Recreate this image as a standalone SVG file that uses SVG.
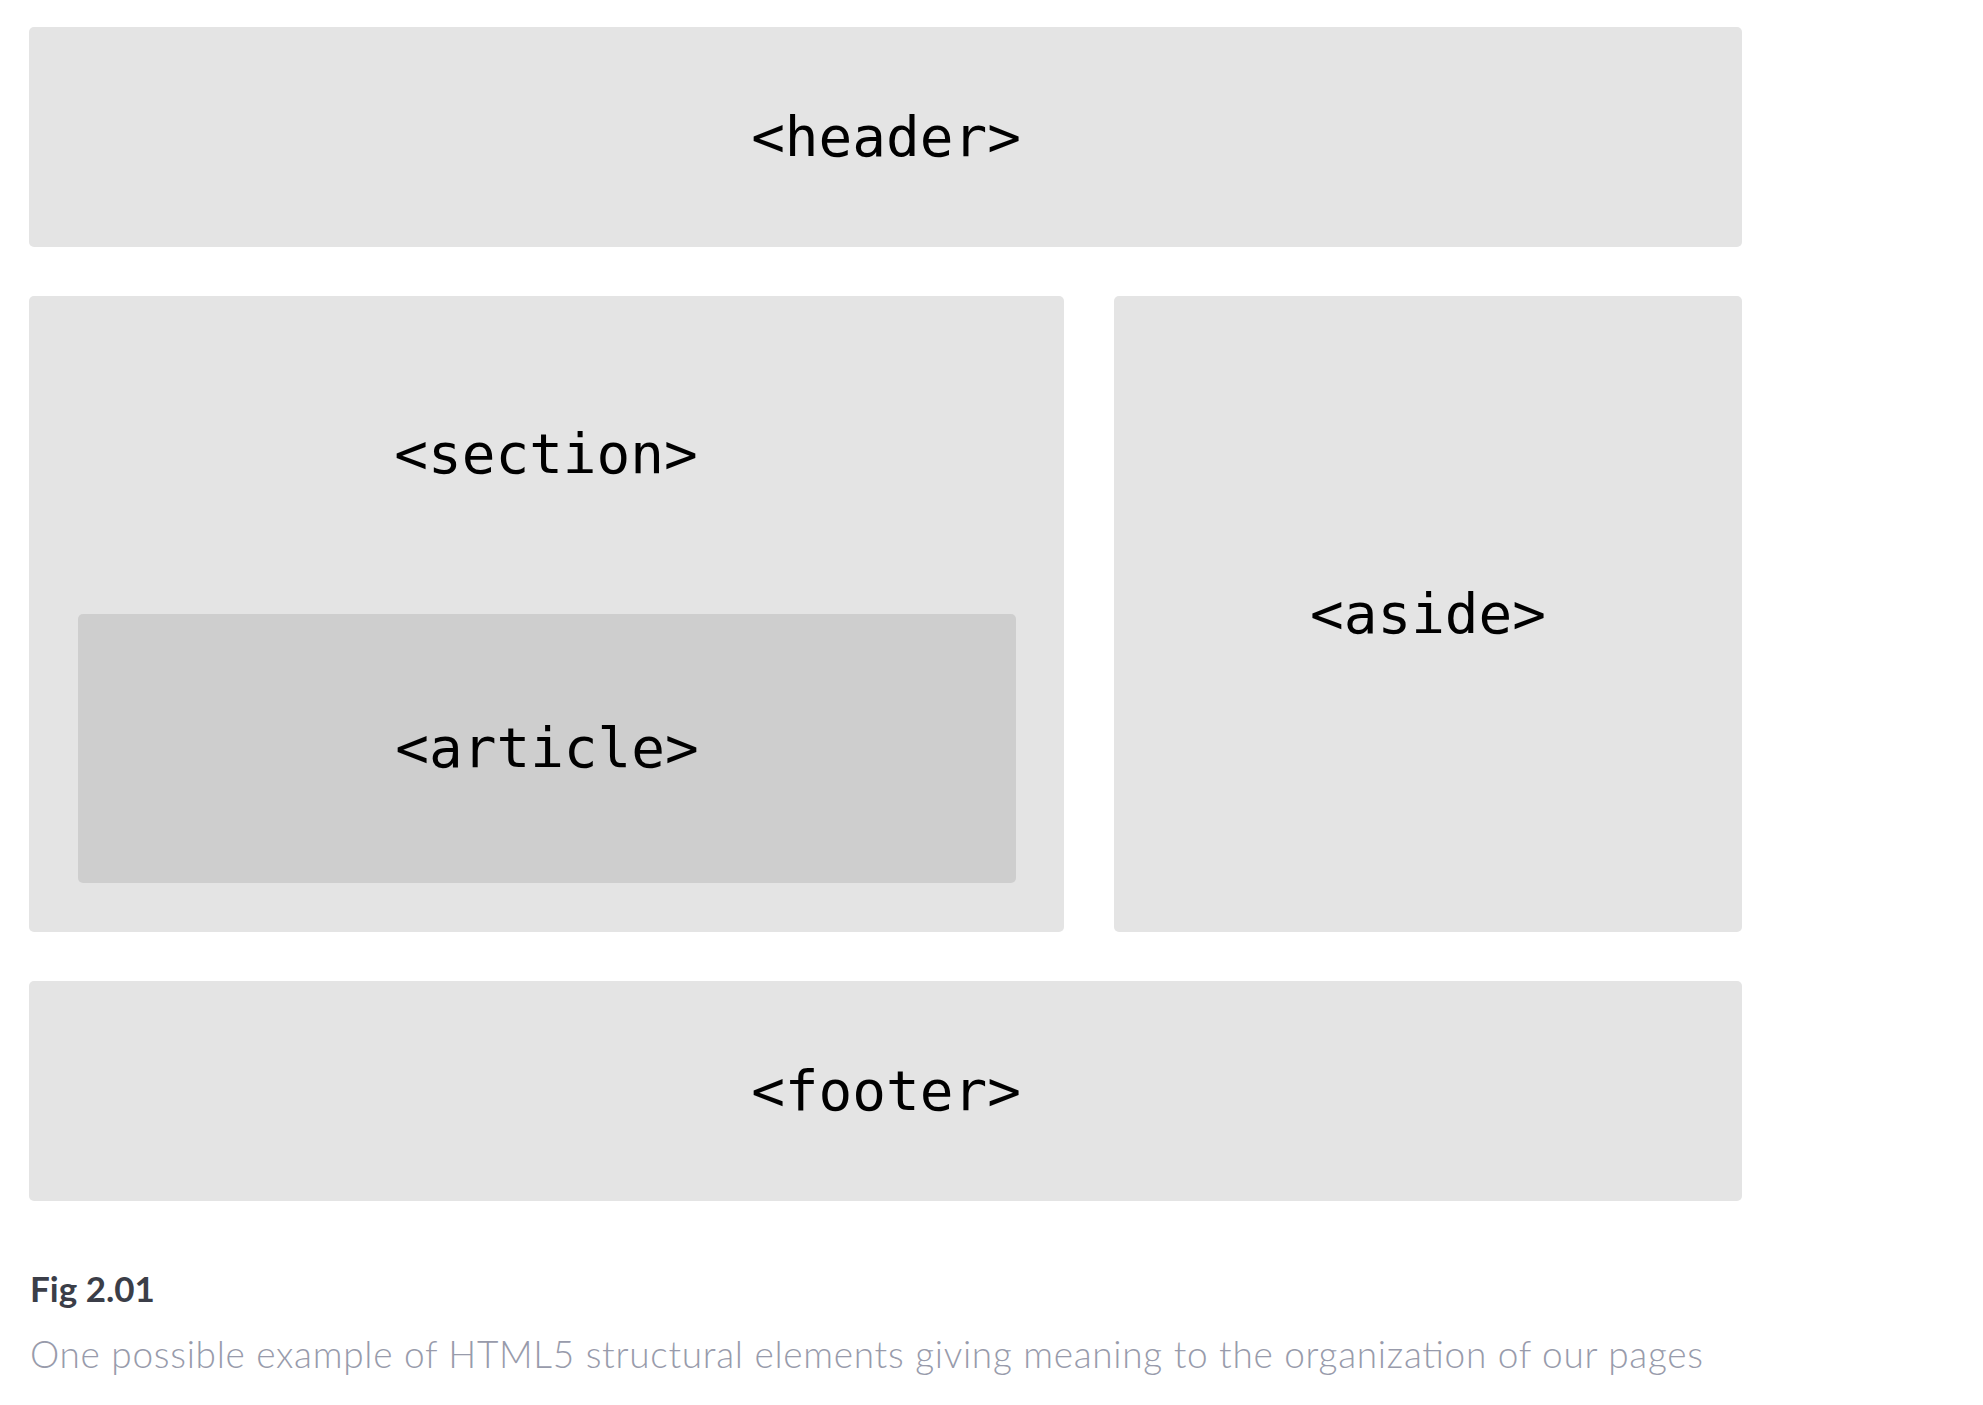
<svg xmlns="http://www.w3.org/2000/svg" width="1983" height="1405" viewBox="0 0 1983 1405">
<style>
.box{fill:#e4e4e4}
.inner{fill:#cecece}
.tag{font-family:"DejaVu Sans Mono","Liberation Mono",monospace;font-size:56px;fill:#000;text-anchor:middle}
.fig{font-family:Lato,"Open Sans",sans-serif;font-size:35px;font-weight:700;fill:#3b3e48}
.cap{font-family:Lato,"Open Sans",sans-serif;font-size:37px;font-weight:300;fill:#989bab}
</style>
<rect width="1983" height="1405" fill="#fff"/>
<g id="header">
<rect class="box" x="29" y="27" width="1713" height="220" rx="5"/>
<text class="tag" x="886" y="156">&lt;header&gt;</text>
</g>
<g id="section">
<rect class="box" x="29" y="296" width="1035" height="636" rx="5"/>
<text class="tag" x="546" y="473">&lt;section&gt;</text>
</g>
<g id="article">
<rect class="inner" x="78" y="614" width="938" height="269" rx="5"/>
<text class="tag" x="547" y="767">&lt;article&gt;</text>
</g>
<g id="aside">
<rect class="box" x="1114" y="296" width="628" height="636" rx="5"/>
<text class="tag" x="1428" y="633">&lt;aside&gt;</text>
</g>
<g id="footer">
<rect class="box" x="29" y="981" width="1713" height="220" rx="5"/>
<text class="tag" x="886" y="1110">&lt;footer&gt;</text>
</g>
<g id="connectors"></g>
<g id="caption">
<text class="fig" x="30" y="1302">Fig 2.01</text>
<text class="cap" x="30" y="1368" textLength="1673" lengthAdjust="spacing">One possible example of HTML5 structural elements giving meaning to the organization of our pages</text>
</g>
</svg>
